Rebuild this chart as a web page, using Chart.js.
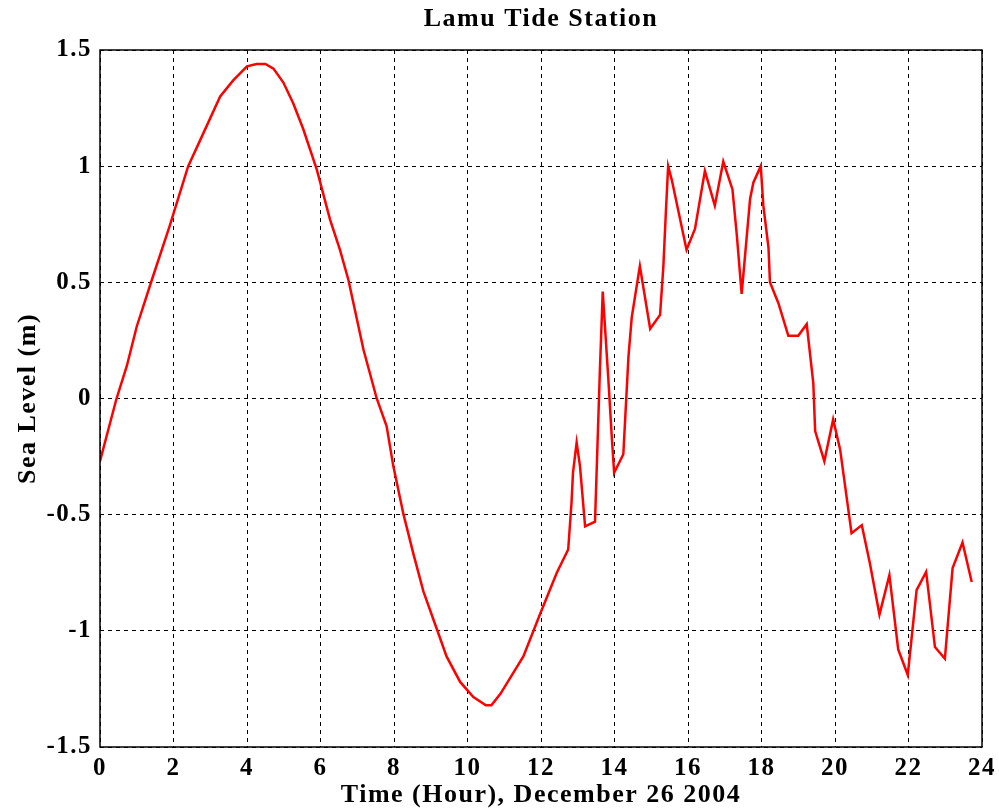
<!DOCTYPE html>
<html>
<head>
<meta charset="utf-8">
<script src="https://cdn.jsdelivr.net/npm/chart.js@4/dist/chart.umd.min.js"></script>
<style>
    html, body { margin: 0; padding: 0; background: #fff; }
    #wrap { width: 999px; height: 811px; }
</style>
</head>
<body>
<div id="wrap"><canvas id="chart" width="999" height="811"></canvas></div>
<script>
// час (години) та рівень моря (м)
const hours = [
    0, 0.45, 0.73, 1.0, 1.41, 1.89, 2.4, 2.72, 3.27, 3.63, 4.0, 4.26, 4.5, 4.72, 4.99,
    5.26, 5.53, 5.9, 6.26, 6.53, 6.76, 7.17, 7.53, 7.8, 7.98, 8.26, 8.53, 8.8, 9.16,
    9.43, 9.8, 10.16, 10.5, 10.65, 10.9, 11.52, 11.97, 12.43, 12.74, 12.83, 12.87,
    12.97, 13.06, 13.2, 13.47, 13.6, 13.68, 13.83, 13.92, 13.99, 14.24, 14.38, 14.47,
    14.69, 14.97, 15.24, 15.33, 15.4, 15.46, 15.56, 15.96, 16.19, 16.46, 16.73, 16.96,
    17.21, 17.33, 17.46, 17.69, 17.78, 17.98, 18.05, 18.19, 18.23, 18.46, 18.73, 19.0,
    19.23, 19.41, 19.46, 19.71, 19.95, 20.14, 20.45, 20.73, 20.95, 21.21, 21.48, 21.72,
    21.98, 22.22, 22.48, 22.72, 22.99, 23.2, 23.47, 23.72
];
const seaLevel = [
    -0.27, 0.0, 0.14, 0.31, 0.51, 0.74, 1.0, 1.11, 1.30, 1.37, 1.43, 1.44, 1.44, 1.42, 1.36,
    1.27, 1.16, 0.985, 0.77, 0.64, 0.51, 0.21, 0.0, -0.12, -0.29, -0.50, -0.67, -0.83, -0.99,
    -1.11, -1.22, -1.285, -1.32, -1.32, -1.27, -1.11, -0.93, -0.75, -0.65, -0.45, -0.32,
    -0.19, -0.29, -0.55, -0.53, 0.11, 0.46, 0.09, -0.15, -0.32, -0.24, 0.18, 0.35,
    0.57, 0.30, 0.36, 0.57, 0.81, 1.0, 0.94, 0.64, 0.73, 0.98, 0.83, 1.02,
    0.90, 0.70, 0.45, 0.86, 0.93, 1.0, 0.83, 0.65, 0.50, 0.41, 0.27, 0.27,
    0.32, 0.065, -0.14, -0.27, -0.09, -0.22, -0.58, -0.545, -0.71, -0.93, -0.76, -1.08,
    -1.19, -0.825, -0.746, -1.07, -1.12, -0.73, -0.62, -0.79
];
const xTicks = [0, 2, 4, 6, 8, 10, 12, 14, 16, 18, 20, 22, 24];
const yTicks = [-1.5, -1, -0.5, 0, 0.5, 1, 1.5];
const yTickLabels = ['-1.5', '-1', '-0.5', '0', '0.5', '1', '1.5'];

const serif = '"Liberation Serif", "Times New Roman", serif';

// трохи розрідити літери, як на оригіналі
const spacingPlugin = {
    id: 'spacing',
    beforeLayout(chart) { chart.ctx.letterSpacing = '1.5px'; },
    beforeDraw(chart) { chart.ctx.letterSpacing = '1.5px'; }
};

// рамка навколо області графіка
const framePlugin = {
    id: 'frame',
    afterDraw(chart) {
        const a = chart.chartArea;
        const ctx = chart.ctx;
        ctx.save();
        ctx.strokeStyle = '#000';
        ctx.lineWidth = 1.5;
        ctx.strokeRect(a.left, a.top, a.right - a.left, a.bottom - a.top);
        ctx.restore();
    }
};

const ctx = document.getElementById('chart').getContext('2d');
new Chart(ctx, {
    type: 'line',
    data: {
        datasets: [{
            data: hours.map((h, i) => ({x: h, y: seaLevel[i]})),
            borderColor: '#ff0000',
            borderWidth: 2.5,
            pointRadius: 0,
            tension: 0,
            fill: false
        }]
    },
    options: {
        responsive: false,
        animation: false,
        layout: { padding: { left: 0, right: 17, top: 0, bottom: 0 } },
        plugins: {
            legend: { display: false },
            tooltip: { enabled: false }
        },
        scales: {
            // верхня вісь лише для заголовка, щоб він був по центру області графіка
            top: {
                type: 'linear',
                position: 'top',
                min: 0,
                max: 24,
                afterFit: s => { s.height = 50; s.paddingLeft = 0; s.paddingRight = 0; },
                grid: { display: false },
                border: { display: false },
                ticks: { display: false },
                title: {
                    display: true,
                    text: 'Lamu Tide Station',
                    color: '#000',
                    padding: { top: 4, bottom: 0 },
                    font: { family: serif, size: 26, weight: 'bold' }
                }
            },
            x: {
                type: 'linear',
                min: 0,
                max: 24,
                afterBuildTicks: s => { s.ticks = xTicks.map(v => ({value: v})); },
                afterFit: s => { s.height = 64; s.paddingLeft = 0; s.paddingRight = 0; },
                grid: { color: '#000', lineWidth: 1, drawTicks: false },
                border: { display: false, dash: [4, 4] },
                ticks: {
                    color: '#000',
                    padding: 7,
                    maxRotation: 0,
                    font: { family: serif, size: 25, weight: 'bold' }
                },
                title: {
                    display: true,
                    text: 'Time (Hour), December 26 2004',
                    color: '#000',
                    padding: 0,
                    font: { family: serif, size: 26, weight: 'bold' }
                }
            },
            y: {
                min: -1.5,
                max: 1.5,
                afterBuildTicks: s => { s.ticks = yTicks.map(v => ({value: v})); },
                afterFit: s => { s.width = 100; },
                grid: { color: '#000', lineWidth: 1, drawTicks: false },
                border: { display: false, dash: [4, 4] },
                ticks: {
                    color: '#000',
                    padding: 8,
                    font: { family: serif, size: 25, weight: 'bold' },
                    callback: v => yTickLabels[yTicks.indexOf(v)]
                },
                title: {
                    display: true,
                    text: 'Sea Level (m)',
                    color: '#000',
                    padding: { top: 13, bottom: 0 },
                    font: { family: serif, size: 26, weight: 'bold' }
                }
            }
        }
    },
    plugins: [spacingPlugin, framePlugin]
});
</script>
</body>
</html>
